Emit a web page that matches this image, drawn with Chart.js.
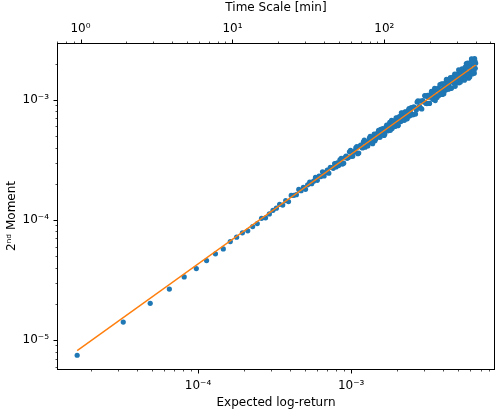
<!DOCTYPE html>
<html>
<head>
<meta charset="utf-8">
<script src="https://cdn.jsdelivr.net/npm/chart.js@4.4.1/dist/chart.umd.min.js"></script>
<style>
  body { margin: 0; background: #fff; }
  canvas { display: block; }
</style>
</head>
<body>
<canvas id="chart" width="502" height="414"></canvas>
<script>
// Escalas de tempo (minutos) e segundo momento medido em cada uma
const minutes = [
  1, 2, 3, 4, 5, 6, 7, 8, 9, 10, 11, 12, 13, 14, 15, 16, 17, 18, 19, 20,
  21, 22, 23, 24, 25, 26, 27, 28, 29, 30, 31, 32, 33, 34, 35, 36, 37, 38, 39, 40,
  41, 42, 43, 44, 45, 46, 47, 48, 49, 50,
  52, 54, 56, 58, 60, 62, 64, 66, 68, 70, 72, 74, 76, 78, 80, 82, 84, 86, 88, 90,
  92, 94, 96, 98, 100, 102, 104, 106, 108, 110, 112, 114, 116, 118, 120, 122, 124, 126, 128, 130,
  132, 134, 136, 138, 140, 142, 144, 146, 148, 150,
  152, 156, 160, 164, 168, 172, 176, 180, 184, 188, 192, 196, 200, 204, 208, 212, 216, 220, 224, 228,
  232, 236, 240, 244, 248, 252, 256, 260, 264, 268, 272, 276, 280, 284, 288, 292, 296, 300, 304, 308,
  312, 316, 320, 324, 328, 332, 336, 340, 344, 348, 352, 356, 360, 364, 368, 372, 376, 380, 384, 388,
  392, 396, 400,
  // pontos intermediários
  51, 53, 55, 57, 59, 61, 63, 65, 67, 69, 71, 73, 75, 77, 79, 81, 83, 85, 87, 89,
  91, 93, 95, 97, 99, 101, 103, 105, 107, 109, 111, 113, 115, 117, 119, 121, 123, 125, 127, 129,
  131, 133, 135, 137, 139, 141, 143, 145, 147, 149,
  154, 158, 162, 166, 170, 174, 178, 182, 186, 190, 194, 198, 202, 206, 210, 214, 218, 222, 226, 230,
  234, 238, 242, 246, 250, 254, 258, 262, 266, 270, 274, 278, 282, 286, 290, 294, 298, 302, 306, 310,
  314, 318, 322, 326, 330, 334, 338, 342, 346, 350, 354, 358, 362, 366, 370, 374, 378, 382, 386, 390,
  394, 398
];
const moments = [
  7.46e-6, 1.41e-5, 2.02e-5, 2.65e-5, 3.35e-5, 3.93e-5, 4.58e-5, 5.21e-5, 5.73e-5, 6.60e-5,
  7.17e-5, 7.80e-5, 8.10e-5, 8.79e-5, 9.31e-5, 1.03e-4, 1.04e-4, 1.12e-4, 1.20e-4, 1.25e-4,
  1.348e-4, 1.328e-4, 1.448e-4, 1.421e-4, 1.599e-4, 1.601e-4, 1.620e-4, 1.794e-4, 1.749e-4, 1.867e-4,
  1.796e-4, 1.958e-4, 2.061e-4, 2.000e-4, 2.101e-4, 2.258e-4, 2.135e-4, 2.318e-4, 2.294e-4, 2.515e-4,
  2.319e-4, 2.482e-4, 2.595e-4, 2.446e-4, 2.736e-4, 2.729e-4, 2.688e-4, 2.937e-4, 2.761e-4, 2.980e-4,
  3.159e-4, 2.915e-4, 3.304e-4, 3.257e-4, 3.686e-4, 3.384e-4, 3.649e-4, 3.973e-4, 3.558e-4, 4.098e-4,
  4.016e-4, 4.463e-4, 4.030e-4, 4.473e-4, 4.322e-4, 4.960e-4, 4.467e-4, 4.835e-4, 4.555e-4, 5.213e-4,
  5.199e-4, 4.894e-4, 5.662e-4, 5.260e-4, 5.483e-4, 5.152e-4, 5.952e-4, 5.988e-4, 5.620e-4, 6.486e-4,
  6.014e-4, 5.770e-4, 6.655e-4, 6.530e-4, 6.260e-4, 7.049e-4, 6.089e-4, 6.855e-4, 7.197e-4, 6.581e-4,
  7.753e-4, 7.004e-4, 6.936e-4, 7.892e-4, 7.547e-4, 6.972e-4, 7.925e-4, 8.213e-4, 7.328e-4, 8.132e-4,
  8.618e-4, 7.512e-4, 8.626e-4, 8.232e-4, 9.775e-4, 8.799e-4, 8.484e-4, 9.829e-4, 9.576e-4, 1.071e-3,
  9.292e-4, 1.050e-3, 9.318e-4, 1.115e-3, 1.084e-3, 1.041e-3, 1.244e-3, 1.089e-3, 1.045e-3, 1.248e-3,
  1.211e-3, 1.135e-3, 1.354e-3, 1.226e-3, 1.121e-3, 1.337e-3, 1.404e-3, 1.226e-3, 1.363e-3, 1.305e-3,
  1.501e-3, 1.251e-3, 1.422e-3, 1.508e-3, 1.378e-3, 1.639e-3, 1.365e-3, 1.550e-3, 1.481e-3, 1.644e-3,
  1.383e-3, 1.644e-3, 1.741e-3, 1.516e-3, 1.624e-3, 1.498e-3, 1.800e-3, 1.718e-3, 1.584e-3, 2.003e-3,
  1.645e-3, 1.876e-3, 1.514e-3, 1.982e-3, 1.835e-3, 1.701e-3, 2.187e-3, 1.647e-3, 1.976e-3, 2.175e-3,
  1.665e-3, 2.104e-3, 2.016e-3,
  // pontos intermediários
  2.830e-4, 3.252e-4, 2.964e-4, 3.397e-4, 3.310e-4, 3.784e-4, 3.394e-4, 3.743e-4, 4.076e-4, 3.605e-4,
  4.200e-4, 3.974e-4, 4.624e-4, 4.272e-4, 4.127e-4, 4.793e-4, 4.735e-4, 4.313e-4, 5.173e-4, 4.710e-4,
  5.207e-4, 5.564e-4, 4.885e-4, 5.335e-4, 5.757e-4, 5.048e-4, 5.767e-4, 6.146e-4, 5.509e-4, 6.003e-4,
  5.567e-4, 6.725e-4, 6.091e-4, 6.629e-4, 6.000e-4, 7.078e-4, 6.705e-4, 6.135e-4, 7.229e-4, 6.688e-4,
  7.788e-4, 6.798e-4, 7.385e-4, 6.747e-4, 7.941e-4, 7.424e-4, 6.935e-4, 8.066e-4, 8.455e-4, 7.457e-4,
  7.510e-4, 8.726e-4, 7.598e-4, 9.559e-4, 8.606e-4, 9.750e-4, 8.377e-4, 9.703e-4, 1.085e-3, 9.311e-4,
  1.090e-3, 9.342e-4, 1.055e-3, 1.178e-3, 1.009e-3, 1.138e-3, 9.854e-4, 1.218e-3, 1.210e-3, 1.083e-3,
  1.339e-3, 1.184e-3, 1.109e-3, 1.354e-3, 1.282e-3, 1.200e-3, 1.481e-3, 1.264e-3, 1.224e-3, 1.440e-3,
  1.529e-3, 1.245e-3, 1.448e-3, 1.554e-3, 1.370e-3, 1.295e-3, 1.632e-3, 1.577e-3, 1.406e-3, 1.771e-3,
  1.508e-3, 1.407e-3, 1.712e-3, 1.813e-3, 1.490e-3, 1.710e-3, 1.454e-3, 1.872e-3, 1.725e-3, 1.608e-3,
  2.023e-3, 1.587e-3, 1.883e-3, 1.546e-3, 2.035e-3, 1.749e-3, 2.173e-3, 1.645e-3, 2.044e-3, 1.736e-3,
  2.205e-3, 1.830e-3
];
// retorno esperado por minuto (liga o eixo de cima ao de baixo)
const returnPerMinute = 1.625e-5;
// reta ajustada (extremos)
const fitMinutes = [1, 400];
const fitMoments = [8.15e-6, 1.948e-3];

const xRange = [1.2e-5, 8.7e-3];
const yRange = [5.62e-6, 2.97e-3];

const font = { family: 'DejaVu Sans', size: 12 };
const sup = { '-': '\u207B', '0': '\u2070', '1': '\u00B9', '2': '\u00B2', '3': '\u00B3',
  '4': '\u2074', '5': '\u2075', '6': '\u2076', '7': '\u2077', '8': '\u2078', '9': '\u2079' };

function powLabel(v) {
  const e = Math.round(Math.log10(v));
  if (Math.abs(v / Math.pow(10, e) - 1) > 1e-6) return '';
  return '10' + String(e).split('').map(c => sup[c]).join('');
}

// ticks 1..9 x 10^n, como no matplotlib
function logTicks(min, max) {
  const ticks = [];
  for (let e = Math.floor(Math.log10(min)); e <= Math.ceil(Math.log10(max)); e++) {
    for (let k = 1; k < 10; k++) {
      const v = k * Math.pow(10, e);
      if (v >= min && v <= max) ticks.push({ value: v, major: k === 1 });
    }
  }
  return ticks;
}

// moldura e marcas dos eixos
const axisFrame = {
  id: 'axisFrame',
  afterDraw(chart) {
    const { ctx, chartArea: a } = chart;
    ctx.save();
    ctx.strokeStyle = '#000';
    ctx.lineWidth = 1;
    const l = Math.round(a.left) + 0.5, t = Math.round(a.top) + 0.5;
    const r = Math.round(a.right) - 0.5, b = Math.round(a.bottom) - 0.5;
    ctx.strokeRect(l, t, r - l, b - t);
    ['x', 'x2', 'y'].forEach(id => {
      const s = chart.scales[id];
      s.ticks.forEach(tk => {
        const p = Math.round(s.getPixelForValue(tk.value)) + 0.5;
        const len = tk.major ? 4 : 2;
        ctx.lineWidth = tk.major ? 1 : 0.7;
        ctx.beginPath();
        if (id === 'y') { ctx.moveTo(l, p); ctx.lineTo(l - len, p); }
        else if (id === 'x') { ctx.moveTo(p, b); ctx.lineTo(p, b + len); }
        else { ctx.moveTo(p, t); ctx.lineTo(p, t - len); }
        ctx.stroke();
      });
    });
    ctx.restore();
  }
};

function logAxis(position, min, max, title, titlePad, tickPad, size) {
  return {
    type: 'logarithmic',
    position: position,
    min: min,
    max: max,
    grid: { display: false, drawTicks: false },
    border: { display: false },
    afterBuildTicks: s => { s.ticks = logTicks(s.min, s.max); },
    afterFit: s => {
      if (position === 'left') s.width = size; else s.height = size;
    },
    ticks: {
      autoSkip: false,
      maxRotation: 0,
      padding: tickPad,
      color: '#000',
      font: font,
      callback: (v, i, ticks) => ticks[i].major ? powLabel(v) : ''
    },
    title: { display: true, text: title, color: '#000', font: font, padding: titlePad }
  };
}

new Chart(document.getElementById('chart'), {
  type: 'scatter',
  data: {
    datasets: [
      {
        type: 'line',
        data: fitMinutes.map((m, i) => ({ x: m * returnPerMinute, y: fitMoments[i] })),
        borderColor: '#ff7f0e',
        borderWidth: 1.5,
        pointRadius: 0,
        fill: false
      },
      {
        data: minutes.map((m, i) => ({ x: m * returnPerMinute, y: moments[i] })),
        backgroundColor: '#1f77b4',
        borderWidth: 0,
        pointRadius: 2.6
      }
    ]
  },
  options: {
    responsive: false,
    animation: false,
    devicePixelRatio: 1,
    layout: { padding: { left: 0, right: 7, top: 0, bottom: 0 } },
    plugins: { legend: { display: false }, tooltip: { enabled: false } },
    scales: {
      x: logAxis('bottom', xRange[0], xRange[1], 'Expected log-return', { top: 0, bottom: 4 }, 9, 44),
      x2: logAxis('top', xRange[0] / returnPerMinute, xRange[1] / returnPerMinute, 'Time Scale [min]', { top: 1, bottom: 0 }, 7, 43),
      y: logAxis('left', yRange[0], yRange[1], '2\u207F\u1D48 Moment\u00A0\u00A0\u00A0\u00A0\u00A0', { top: 5, bottom: 0 }, 8, 57)
    }
  },
  plugins: [axisFrame]
});
</script>
</body>
</html>
